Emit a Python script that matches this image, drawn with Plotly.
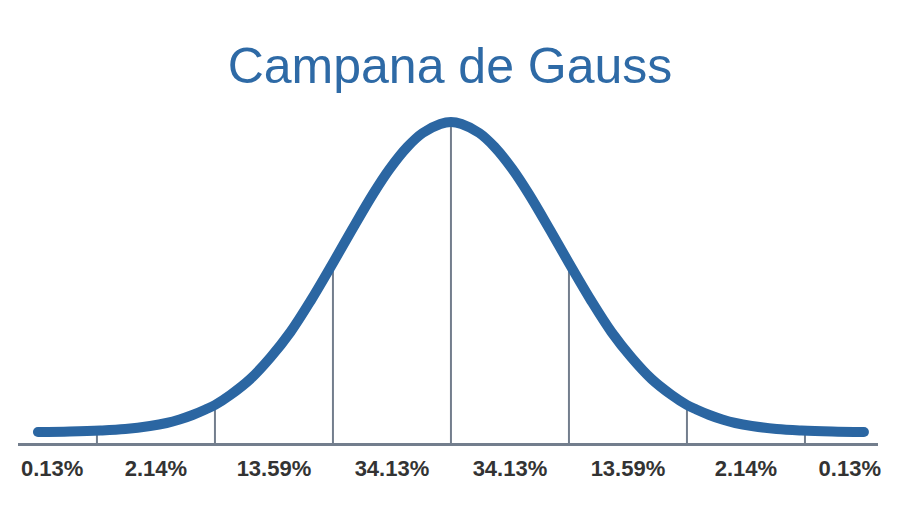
import plotly.graph_objects as go

# Curve: x in standard deviations, y = height above baseline (px-like units)
curve_x = [-3.50, -3.23, -2.97, -2.76, -2.55, -2.41, -2.30, -2.19, -2.08, -2.00,
           -1.87, -1.70, -1.53, -1.36, -1.19, -1.00, -0.84, -0.66, -0.52, -0.37,
           -0.24, -0.09, 0.00,
           0.09, 0.24, 0.37, 0.52, 0.66, 0.84, 1.00, 1.19, 1.36, 1.53,
           1.70, 1.87, 2.00, 2.08, 2.19, 2.30, 2.41, 2.55, 2.76, 2.97, 3.23, 3.50]
curve_y = [11, 11.5, 12.5, 14, 17, 20, 23.5, 28, 33.5, 38,
           48, 64, 85.5, 111, 142, 180, 213, 249, 274, 296,
           310, 319, 321,
           319, 310, 296, 274, 249, 213, 180, 142, 111, 85.5,
           64, 48, 38, 33.5, 28, 23.5, 20, 17, 14, 12.5, 11.5, 11]

# Vertical sigma lines and the height where each meets the curve
sigma_x = [-3, -2, -1, 0, 1, 2, 3]
sigma_top = [12, 38, 180, 321, 180, 38, 12]

# Percentage labels between the lines
label_x = [-3.38, -2.5, -1.5, -0.5, 0.5, 1.5, 2.5, 3.38]
label_text = ["0.13%", "2.14%", "13.59%", "34.13%", "34.13%", "13.59%", "2.14%", "0.13%"]

title_text = "Campana de Gauss"

BLUE = "#2b66a2"
GRAY = "#737e8d"
TEXT = "#333333"

fig = go.Figure()

for sx, st in zip(sigma_x, sigma_top):
    fig.add_trace(go.Scatter(x=[sx, sx], y=[0, st], mode="lines",
                             line=dict(color=GRAY, width=2), showlegend=False,
                             hoverinfo="skip"))

fig.add_trace(go.Scatter(x=curve_x, y=curve_y, mode="lines",
                         line=dict(color=BLUE, width=10, shape="spline", smoothing=1.0),
                         showlegend=False, hoverinfo="skip"))
# round caps at both ends
fig.add_trace(go.Scatter(x=[curve_x[0], curve_x[-1]], y=[curve_y[0], curve_y[-1]],
                         mode="markers", marker=dict(color=BLUE, size=10, line=dict(width=0)),
                         showlegend=False, hoverinfo="skip"))

fig.update_layout(
    width=900, height=525,
    margin=dict(l=18, r=22, t=100, b=82),
    paper_bgcolor="white", plot_bgcolor="white",
    title=dict(text=title_text, x=0.5, xanchor="center", y=0.875, yanchor="middle",
               font=dict(family="Liberation Sans, Arial, sans-serif", size=50, color="#2e6aa6")),
    xaxis=dict(range=[-3.669, 3.619], showgrid=False, zeroline=False,
               showline=True, linecolor=GRAY, linewidth=3,
               tickmode="array", tickvals=label_x, ticktext=label_text, ticks="",
               ticklabelstandoff=4,
               tickfont=dict(family="Liberation Sans, Arial, sans-serif", size=22,
                             color=TEXT, weight="bold"),
               fixedrange=True),
    yaxis=dict(range=[0, 343], visible=False, fixedrange=True),
    hovermode=False,
    showlegend=False,
)

fig.write_html("out.html", config={"displayModeBar": False},
               post_script="document.body.style.margin='0';")
